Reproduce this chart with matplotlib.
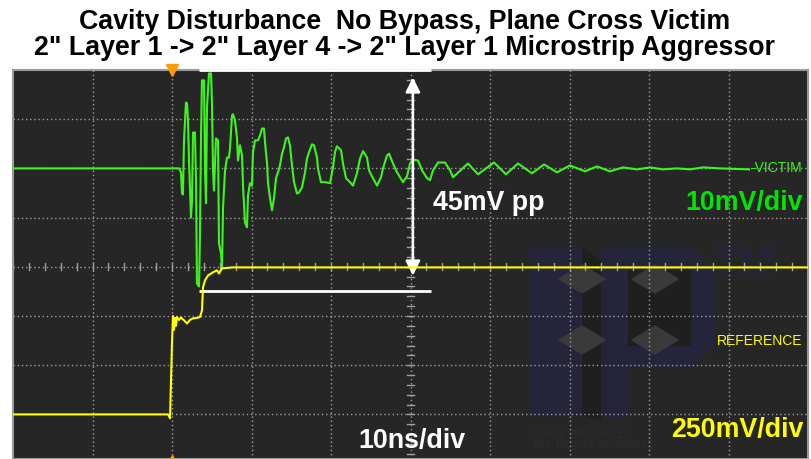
import matplotlib.pyplot as plt
from matplotlib.patches import Polygon

# oscilloscope capture, time in ns (10 ns/div, trigger at 0)
victim_t = [-20, 0.88, 1.13, 1.26, 1.38, 1.51, 1.76, 1.89, 2.01, 2.14, 2.39, 2.52, 2.64, 2.89,
            3.02, 3.14, 3.40, 3.52, 3.65, 3.77, 4.03, 4.15, 4.28, 4.40, 4.65, 4.91, 5.03,
            5.16, 5.28, 5.53, 5.79, 5.91, 6.16, 6.29, 6.42, 6.67, 6.92, 7.17, 7.30, 7.55,
            7.67, 7.92, 8.18, 8.30, 8.55, 8.81, 8.93, 9.18, 9.43, 9.56, 9.81, 10.06, 10.19,
            10.44, 10.82, 11.07, 11.32, 11.57, 11.70, 11.95, 12.08, 12.33, 12.58, 12.83,
            13.08, 13.33, 13.58, 13.84, 14.09, 14.34, 14.59, 14.84, 15.09, 15.35, 15.72,
            15.97, 16.35, 16.73, 16.98, 17.23, 17.61, 17.86, 18.24, 18.36, 18.74, 19.25,
            19.87, 20.25, 20.50, 20.75, 21.26, 21.51, 21.89, 22.39, 22.77, 23.27, 23.65,
            24.03, 24.53, 24.78, 25.28, 25.79, 26.29, 26.54, 27.04, 27.30, 27.80, 28.18,
            28.68, 29.06, 29.56, 29.94, 30.31, 30.94, 31.45, 32.08, 32.45, 32.83, 33.46,
            34.34, 34.97, 35.35, 37.23, 38.49, 40.50, 42.01, 43.52, 45.28, 46.79, 48.43,
            50.06, 51.95, 53.46, 55.09, 56.73, 58.49, 60.13, 61.76, 63.52, 65.16, 66.79,
            68.93, 72.6]
victim_mv = [0, 0, -0.8, -5.1, -5.3, 5.7, 13.4, 13.2, 9.8, 1.6, -10.0, -6.5, 7.3, 7.3,
             -2.4, -23.4, -24.0, -13.4, 6.3, 17.9, 17.9, -0.4, -7.1, 12.4, 19.3, 19.3, 13.2,
             -0.4, -4.5, 6.1, 5.7, -15.2, -17.3, -20.1, -7.9, -0.4, 2.2, 2.2, 4.1, 10.8,
             11.0, 9.8, 6.1, 1.6, 4.7, 2.6, -3.5, -11.0, -12.0, -5.5, -3.0, -3.5, 3.3,
             5.7, 5.7, 6.7, 8.1, 8.1, 5.3, 1.2, -3.0, -6.1, -8.5, -6.1,
             -2.0, -0.8, 0.6, 3.0, 4.3, 6.1, 6.3, 4.7, 0.6, -2.8, -5.1,
             -4.9, -3.9, -0.8, 2.0, 3.3, 4.9, 4.7, 2.2, 0, -2.8, -2.8,
             -3.0, 0.2, 3.3, 4.5, 3.7, 1.0, -2.0, -2.8, -3.5, -1.0, 2.0,
             3.5, 2.2, -0.4, -2.0, -3.5, -1.8, 0, 2.6, 3.0, 1.0, -0.4,
             -1.8, -2.8, -1.6, 1.0, 1.8, 1.6, -0.4, -2.0, -2.4, -0.4, 1.2,
             1.2, -0.4, -1.8, 1.0, -1.2, 1.2, -1.2, 1.0, -1.0, 0.8, -0.8,
             0.6, -0.6, 0.4, -0.6, 0.2, -0.2, 0.2, -0.2, 0, -0.2, 0.2,
             0, -0.2]

ref_t = [-20, -0.5, -0.25, 0.0, 0.13, 0.25, 0.38, 0.5, 0.63, 0.88, 1.13, 1.51, 1.89, 2.26,
         2.64, 3.14, 3.52, 3.77, 3.90, 4.15, 4.53, 5.16, 5.66, 5.91, 6.29, 7.67, 80]
ref_mv = [0, 0, -20, 366, 500, 430, 490, 450, 495, 480, 492, 478, 462, 480,
          488, 490, 495, 528, 645, 681, 706, 722, 732, 716, 742, 747, 747]

pp_top, pp_bottom = 20, -25
pp_t0, pp_t1 = 3.4, 32.6
arrow_t = 30.3

bg = '#262626'
green = '#3df51e'
yellow = '#ffff00'

fig = plt.figure(figsize=(8.11, 4.59), dpi=100)
fig.patch.set_facecolor('white')

W, H = 811, 459
ax = fig.add_axes([13 / W, 0, 795 / W, 389 / H])
ax.set_facecolor(bg)
ax.set_xlim(-20, 80)
ybot = 8 - 389 / 49.2
ax.set_ylim(ybot, 8)


def px(x, y):
    # pixel position -> (ns, div) in grid axes
    return (x - 13) / 79.5 * 10 - 20, 8 - (y - 70) / 49.2


# graticule
gcol = '#a0a0a0'
for t in range(-10, 80, 10):
    ax.axvline(t, color=gcol, lw=1, ls=(0, (1, 2)), zorder=1)
for d in range(1, 8):
    ax.axhline(d, color=gcol, lw=1, ls=(0, (1, 2)), zorder=1)
for t in range(-20, 81, 2):
    ax.plot([t, t], [4 - 0.07, 4 + 0.07], color=gcol, lw=1, zorder=1)
for k in range(0, 41):
    d = k * 0.2
    ax.plot([30 - 0.45, 30 + 0.45], [d, d], color=gcol, lw=1, zorder=1)

for s in ax.spines.values():
    s.set_color('#9a9a9a')
    s.set_linewidth(1.5)
ax.set_xticks([])
ax.set_yticks([])

# faint watermark logo
navy = '#24253a'
shade = '#1f1f1f'
logo = [
    ([(530, 248), (583, 248), (583, 415), (530, 415)], navy),
    ([(583, 248), (602, 262), (602, 420), (583, 415)], shade),
    ([(602, 248), (690, 248), (713, 268), (713, 345), (690, 367), (628, 367),
      (628, 417), (602, 417)], navy),
    ([(628, 270), (690, 270), (690, 345), (628, 345)], shade),
]
for pts, c in logo:
    ax.add_patch(Polygon([px(x, y) for x, y in pts], closed=True, color=c, zorder=0.5))
for cx, cy in [(582, 279), (655, 279), (582, 340), (655, 340)]:
    pts = [(cx - 23, cy), (cx, cy - 14), (cx + 23, cy), (cx, cy + 14)]
    ax.add_patch(Polygon([px(x, y) for x, y in pts], closed=True, color='#3a3a3a', zorder=0.6))
ax.text(*px(713, 265), 'TM', color=navy, fontsize=30, fontweight='bold',
        family='Liberation Sans', va='center', ha='left', zorder=0.6)
ax.text(*px(533, 440), '©2012 TPBLOX LLC\nALL RIGHTS RESERVED', color='#2b2b2b', fontsize=7.5,
        fontweight='bold', family='Liberation Sans', va='center', ha='left', zorder=0.6,
        linespacing=1.0)

# channels on their own scales
axv = ax.twinx()
axv.set_ylim((ybot - 6) * 10, (8 - 6) * 10)
axr = ax.twinx()
axr.set_ylim((ybot - 1) * 250, (8 - 1) * 250)
for a in (axv, axr):
    a.axis('off')

axr.plot(ref_t, ref_mv, color=yellow, lw=1.5, zorder=3)
axv.plot(victim_t, victim_mv, color=green, lw=1.5, zorder=4)

# peak-to-peak markers
axv.hlines([pp_top, pp_bottom], pp_t0, pp_t1, color='white', lw=2, zorder=5, clip_on=False)
axv.annotate('', xy=(arrow_t, pp_top - 1.5), xytext=(arrow_t, pp_bottom + 3.2),
             arrowprops=dict(arrowstyle='<|-|>', color='white', lw=1.8,
                             mutation_scale=22, shrinkA=0, shrinkB=0), zorder=6)

# trigger markers
ax.plot([0], [8], marker='v', color='#ff9a00', ms=9, clip_on=False, zorder=7)
ax.plot([0], [ybot], marker='^', color='#ff9a00', ms=6, clip_on=False, zorder=7)

big = dict(family='Liberation Sans', fontweight='bold', fontsize=19.3, zorder=8, va='baseline')
ax.text(*px(433, 210), '45mV pp', color='white', ha='left', **big)
ax.text(*px(803, 210), '10mV/div', color='#00e600', ha='right', **big)
ax.text(*px(803, 437), '250mV/div', color=yellow, ha='right', **big)
ax.text(*px(358, 448), '10ns/div', color='white', ha='left', **big)
small = dict(family=['Liberation Sans Narrow', 'Liberation Sans'], fontsize=10, zorder=8)
ax.text(*px(802, 341), 'REFERENCE', color=yellow, ha='right', va='center', **small)
ax.text(*px(802, 168), '-VICTIM', color=green, ha='right', va='center', **small)

title = dict(family='Liberation Sans', fontweight='bold', fontsize=19.3, color='black',
             ha='center', va='baseline')
fig.text(405 / W, 1 - 29 / H, 'Cavity Disturbance  No Bypass, Plane Cross Victim', **title)
fig.text(405 / W, 1 - 55 / H, '2" Layer 1 -> 2" Layer 4 -> 2" Layer 1 Microstrip Aggressor', **title)

fig.savefig('out.png', dpi=100, facecolor='white')
